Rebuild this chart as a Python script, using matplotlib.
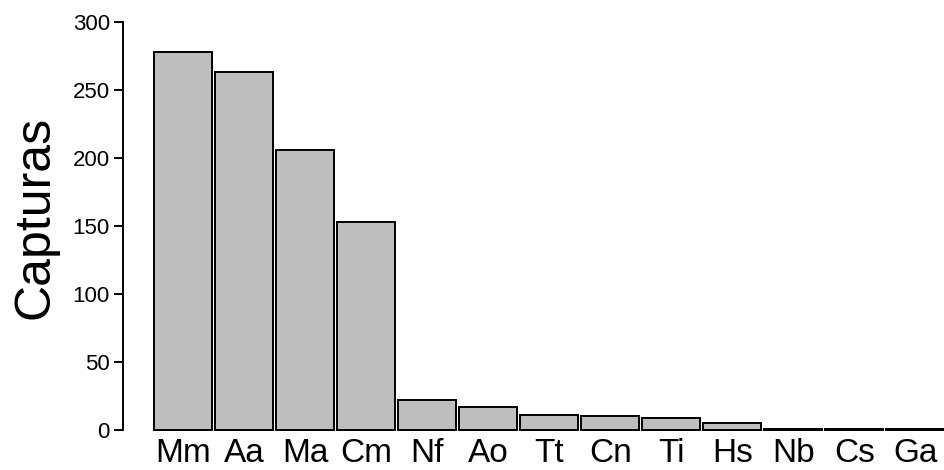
import numpy as np
import matplotlib
import matplotlib.pyplot as plt

matplotlib.use('Agg')

species = ['Mm', 'Aa', 'Ma', 'Cm', 'Nf', 'Ao', 'Tt', 'Cn', 'Ti', 'Hs', 'Nb', 'Cs', 'Ga']
captures = [278, 263, 206, 153, 22, 17, 11, 10, 9, 5, 1, 1, 1]
y_ticks = [0, 50, 100, 150, 200, 250, 300]

plt.rcParams['font.family'] = ['Liberation Sans', 'DejaVu Sans']

fig = plt.figure(figsize=(9.45, 4.7), dpi=100)
ax = fig.add_axes([123 / 945, 1 - 430 / 470, 1 - 123 / 945, (430 - 22) / 470])

# barplot-like layout: width 1, small gap between bars
space = 0.05
x = space + np.arange(len(species)) * (1 + space) + 0.5
ax.bar(x, captures, width=1.0, color='#bebebe', edgecolor='black',
       linewidth=1.4, clip_on=False)

ax.set_xlim(-0.489, 13.66)
ax.set_ylim(0, 300)

for s in ['top', 'right', 'bottom']:
    ax.spines[s].set_visible(False)
ax.spines['left'].set_bounds(0, 300)
ax.spines['left'].set_linewidth(1.4)

ax.set_yticks(y_ticks)
ax.tick_params(axis='y', length=6.5, width=1.4, labelsize=16, pad=3)
ax.set_xticks(x)
ax.set_xticklabels(species)
ax.tick_params(axis='x', length=0, labelsize=24, pad=6)

fig.text(36 / 945, 1 - 217.5 / 470, 'Capturas', rotation=90,
         ha='center', va='center', fontsize=36)

fig.savefig('out.png', dpi=100)
